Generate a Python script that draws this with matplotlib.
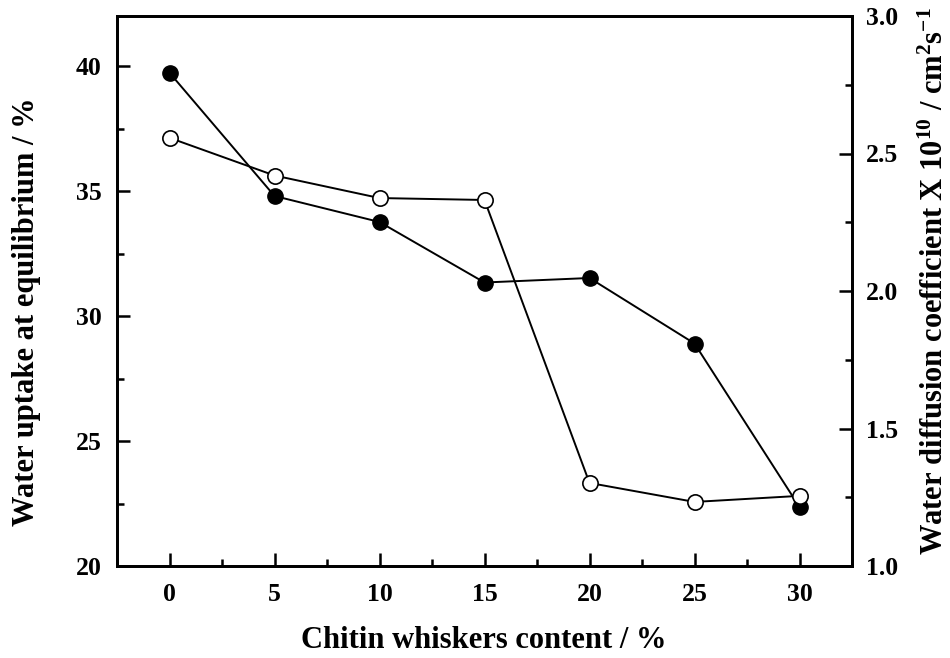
import matplotlib
matplotlib.use("Agg")
import matplotlib.pyplot as plt
from matplotlib.ticker import MultipleLocator, FormatStrFormatter

content = [0, 5, 10, 15, 20, 25, 30]
water_uptake = [39.73, 34.8, 33.76, 31.34, 31.52, 28.9, 22.36]
diffusion = [2.557, 2.42, 2.338, 2.331, 1.302, 1.233, 1.255]

plt.rcParams['font.family'] = ['Liberation Serif', 'DejaVu Serif']
plt.rcParams['font.weight'] = 'bold'
plt.rcParams['mathtext.fontset'] = 'custom'
plt.rcParams['mathtext.rm'] = 'Liberation Serif:bold'
plt.rcParams['mathtext.bf'] = 'Liberation Serif:bold'
plt.rcParams['mathtext.it'] = 'Liberation Serif:bold'
plt.rcParams['mathtext.default'] = 'bf'

W, H = 950, 658
fig = plt.figure(figsize=(9.5, 6.58), dpi=100)
ax = fig.add_axes([117 / W, 1 - 566 / H, (852 - 117) / W, (566 - 16) / H])
ax2 = ax.twinx()

ax.plot(content, water_uptake, color='black', lw=1.4, marker='o', ms=11,
        mfc='black', mec='black', zorder=3)
ax2.plot(content, diffusion, color='black', lw=1.4, marker='o', ms=11,
         mfc='white', mec='black', mew=1.2, zorder=3)

ax.set_xlim(-2.5, 32.5)
ax.set_ylim(20, 42)
ax2.set_ylim(1.0, 3.0)

ax.xaxis.set_major_locator(MultipleLocator(5))
ax.xaxis.set_minor_locator(MultipleLocator(2.5))
ax.yaxis.set_major_locator(MultipleLocator(5))
ax.yaxis.set_minor_locator(MultipleLocator(2.5))
ax2.yaxis.set_major_locator(MultipleLocator(0.5))
ax2.yaxis.set_minor_locator(MultipleLocator(0.25))
ax2.yaxis.set_major_formatter(FormatStrFormatter('%.1f'))

for a in (ax, ax2):
    for s in a.spines.values():
        s.set_linewidth(2.0)
    a.tick_params(which='major', direction='in', length=9.5, width=1.8, labelsize=18.5)
    a.tick_params(which='minor', direction='in', length=5, width=1.8)

ax.tick_params(axis='x', which='both', top=False)
ax.tick_params(axis='x', which='major', pad=12)
ax.tick_params(axis='y', which='both', right=False)
ax.tick_params(axis='y', which='major', pad=11)
ax2.tick_params(axis='y', which='both', left=False, right=True)
ax2.tick_params(axis='y', which='major', pad=10)

for lab in ax.get_xticklabels() + ax.get_yticklabels() + ax2.get_yticklabels():
    lab.set_fontweight('bold')

fig.text(484 / W, 1 - 641 / H, 'Chitin whiskers content / %', fontsize=22,
         fontweight='bold', ha='center', va='center')
fig.text(27 / W, 1 - 312 / H, 'Water uptake at equilibrium / %', fontsize=22,
         fontweight='bold', ha='center', va='center', rotation=90)
fig.text(935 / W, 1 - 281 / H,
         r'Water diffusion coefficient X 10$^{10}$ / cm$^{2}$s$^{-1}$', fontsize=22,
         fontweight='bold', ha='center', va='center', rotation=90)

fig.savefig('out.png', dpi=100)
